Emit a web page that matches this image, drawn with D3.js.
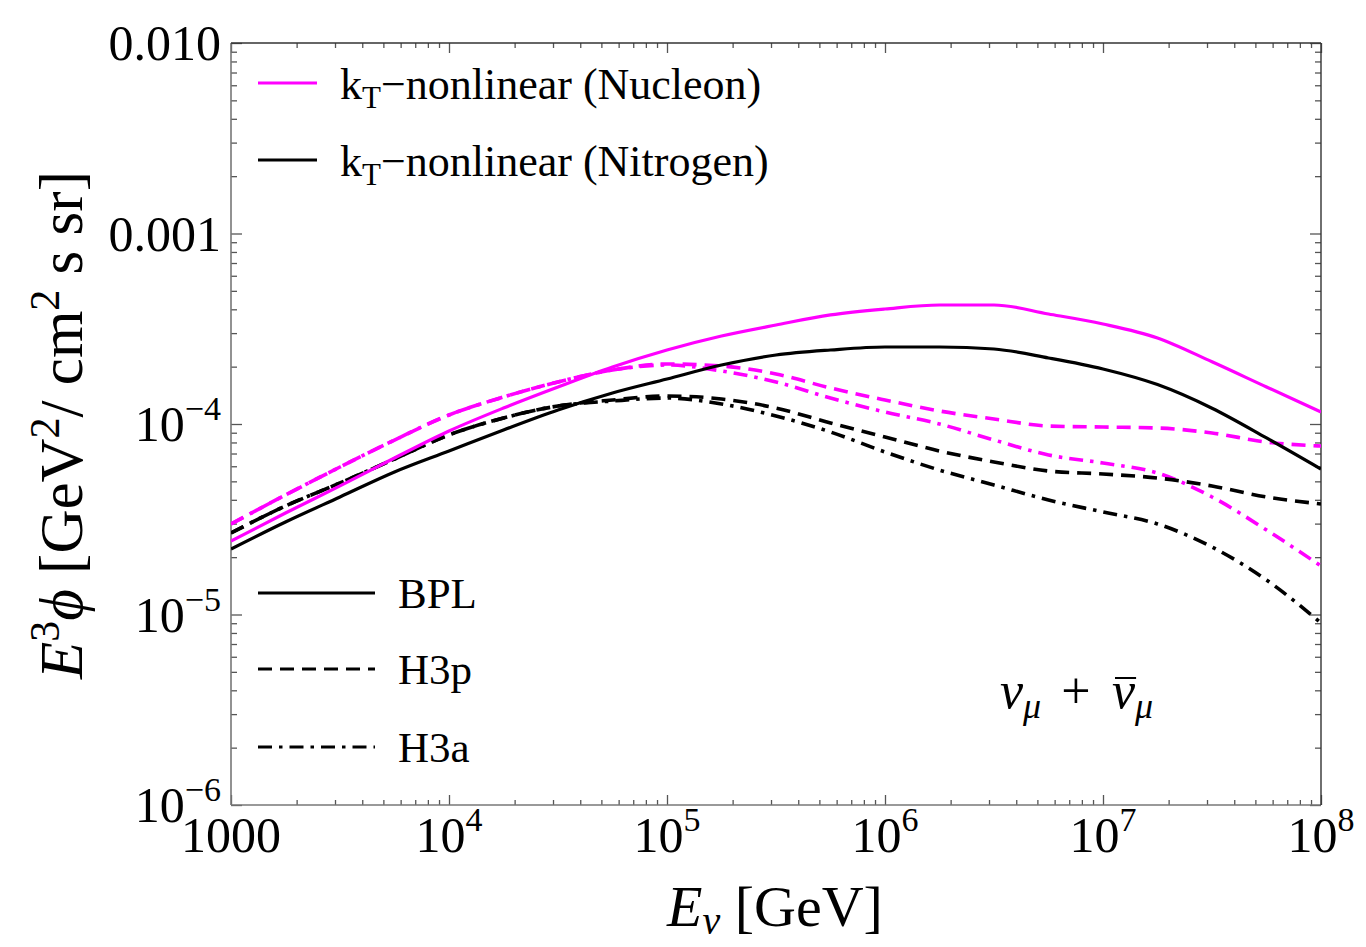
<!DOCTYPE html>
<html><head><meta charset="utf-8">
<script src="https://cdn.jsdelivr.net/npm/d3@7"></script>
<style>
body{margin:0;background:#fff;}
text{font-family:"Liberation Serif","Times New Roman",serif;fill:#000;}
</style>
</head><body><svg id="chart" width="1366" height="947"></svg>
<script>
// ---------------- data ----------------
const energies = [1000, 1778, 3162, 5623, 1e4, 17783, 31623, 56234, 1e5, 177828, 316228, 562341,
  1e6, 1778279, 3162278, 5623413, 1e7, 17782794, 31622777, 56234133, 1e8];

const nucleonBPL = [2.43e-5, 3.41e-5, 4.73e-5, 6.63e-5, 9.19e-5, 1.213e-4, 1.564e-4, 1.991e-4, 2.446e-4, 2.897e-4,
  3.309e-4, 3.736e-4, 4.016e-4, 4.215e-4, 4.215e-4, 3.781e-4, 3.35e-4, 2.83e-4, 2.12e-4, 1.564e-4, 1.156e-4];
const nitrogenBPL = [2.207e-5, 3.059e-5, 4.139e-5, 5.598e-5, 7.216e-5, 9.30e-5, 1.184e-4, 1.455e-4, 1.723e-4, 2.040e-4,
  2.302e-4, 2.446e-4, 2.537e-4, 2.537e-4, 2.476e-4, 2.221e-4, 1.944e-4, 1.61e-4, 1.21e-4, 8.45e-5, 5.80e-5];
const nucleonH3p = [2.987e-5, 4.240e-5, 5.947e-5, 8.24e-5, 1.115e-4, 1.386e-4, 1.662e-4, 1.921e-4, 2.065e-4, 2.016e-4,
  1.830e-4, 1.545e-4, 1.337e-4, 1.170e-4, 1.062e-4, 9.76e-5, 9.64e-5, 9.53e-5, 8.97e-5, 8.04e-5, 7.66e-5];
const nucleonH3a = [2.987e-5, 4.240e-5, 5.947e-5, 8.24e-5, 1.115e-4, 1.386e-4, 1.662e-4, 1.921e-4, 2.040e-4, 1.900e-4,
  1.662e-4, 1.369e-4, 1.156e-4, 1.0e-4, 8.24e-5, 6.88e-5, 6.24e-5, 5.53e-5, 4.139e-5, 2.777e-5, 1.797e-5];
const nitrogenH3p = [2.678e-5, 3.712e-5, 4.901e-5, 6.55e-5, 8.76e-5, 1.075e-4, 1.243e-4, 1.337e-4, 1.403e-4, 1.353e-4,
  1.213e-4, 1.012e-4, 8.55e-5, 7.216e-5, 6.32e-5, 5.665e-5, 5.465e-5, 5.206e-5, 4.726e-5, 4.139e-5, 3.802e-5];
const nitrogenH3a = [2.678e-5, 3.712e-5, 4.901e-5, 6.55e-5, 8.76e-5, 1.075e-4, 1.243e-4, 1.320e-4, 1.369e-4, 1.274e-4,
  1.102e-4, 9.08e-5, 7.13e-5, 5.73e-5, 4.785e-5, 3.990e-5, 3.452e-5, 2.987e-5, 2.261e-5, 1.517e-5, 9.03e-6];

const xTickValues = [1e3, 1e4, 1e5, 1e6, 1e7, 1e8];
const xTickBases = ["1000", "10", "10", "10", "10", "10"];
const xTickExps = ["", "4", "5", "6", "7", "8"];
const yTickValues = [1e-6, 1e-5, 1e-4, 1e-3, 1e-2];
const yTickBases = ["10", "10", "10", "0.001", "0.010"];
const yTickExps = ["\u22126", "\u22125", "\u22124", "", ""];

const targetLabels = ["(Nucleon)", "(Nitrogen)"];
const modelLabels = ["BPL", "H3p", "H3a"];

// ---------------- layout ----------------
const L = 231, R = 1321, T = 43, B = 805;
const MAGENTA = "#ff00ff";
const DASH = "14,8", DASHDOT = "14,7,3.5,7";

const svg = d3.select("#chart");
const x = d3.scaleLog().domain([1e3, 1e8]).range([L, R]);
const y = d3.scaleLog().domain([1e-6, 1e-2]).range([B, T]);

svg.append("defs").append("clipPath").attr("id", "clip")
  .append("rect").attr("x", L).attr("y", T).attr("width", R - L).attr("height", B - T);

// ---------------- ticks ----------------
const minorX = [], minorY = [];
for (let d = 3; d < 8; d++) for (let k = 2; k <= 9; k++) minorX.push(k * Math.pow(10, d));
for (let d = -6; d < -2; d++) for (let k = 2; k <= 9; k++) minorY.push(k * Math.pow(10, d));

const tickColor = "#555";
function styleAxis(g) {
  g.select(".domain").remove();
  g.selectAll(".tick line").attr("stroke", tickColor).attr("stroke-width", 1.3);
  g.selectAll(".tick text").remove();
}
svg.append("g").attr("transform", `translate(0,${B})`).call(d3.axisBottom(x).tickValues(xTickValues).tickSize(-10)).call(styleAxis);
svg.append("g").attr("transform", `translate(0,${B})`).call(d3.axisBottom(x).tickValues(minorX).tickSize(-5)).call(styleAxis);
svg.append("g").attr("transform", `translate(0,${T})`).call(d3.axisTop(x).tickValues(xTickValues).tickSize(-10)).call(styleAxis);
svg.append("g").attr("transform", `translate(0,${T})`).call(d3.axisTop(x).tickValues(minorX).tickSize(-5)).call(styleAxis);
svg.append("g").attr("transform", `translate(${L},0)`).call(d3.axisLeft(y).tickValues(yTickValues).tickSize(-11)).call(styleAxis);
svg.append("g").attr("transform", `translate(${L},0)`).call(d3.axisLeft(y).tickValues(minorY).tickSize(-6)).call(styleAxis);
svg.append("g").attr("transform", `translate(${R},0)`).call(d3.axisRight(y).tickValues(yTickValues).tickSize(-11)).call(styleAxis);
svg.append("g").attr("transform", `translate(${R},0)`).call(d3.axisRight(y).tickValues(minorY).tickSize(-6)).call(styleAxis);

// frame
svg.append("line").attr("x1", L).attr("x2", L).attr("y1", T).attr("y2", B).attr("stroke", "#777").attr("stroke-width", 1.6);
svg.append("line").attr("x1", L).attr("x2", R).attr("y1", B).attr("y2", B).attr("stroke", "#777").attr("stroke-width", 1.6);
svg.append("line").attr("x1", L).attr("x2", R).attr("y1", T).attr("y2", T).attr("stroke", "#333").attr("stroke-width", 1.4);
svg.append("line").attr("x1", R).attr("x2", R).attr("y1", T).attr("y2", B).attr("stroke", "#333").attr("stroke-width", 1.4);

// tick labels
const TL = 50, TS = 34;
xTickValues.forEach((v, i) => {
  const t = svg.append("text").attr("x", x(v)).attr("y", 852).attr("text-anchor", "middle").style("font-size", TL + "px");
  t.append("tspan").text(xTickBases[i]);
  if (xTickExps[i]) t.append("tspan").attr("dy", -21).style("font-size", TS + "px").text(xTickExps[i]);
});
yTickValues.forEach((v, i) => {
  const t = svg.append("text").attr("x", 221).attr("y", y(v) + 17).attr("text-anchor", "end").style("font-size", TL + "px");
  t.append("tspan").text(yTickBases[i]);
  if (yTickExps[i]) t.append("tspan").attr("dy", -21).style("font-size", TS + "px").text(yTickExps[i]);
});

// axis titles
const xt = svg.append("text").attr("x", 775).attr("y", 926).attr("text-anchor", "middle").style("font-size", "58px");
xt.append("tspan").style("font-style", "italic").text("E");
xt.append("tspan").attr("dy", 8).style("font-style", "italic").style("font-size", "40px").text("\u03bd");
xt.append("tspan").attr("dy", -8).text(" [GeV]");

const yt = svg.append("text").attr("transform", "translate(82,425) rotate(-90)").attr("text-anchor", "middle").style("font-size", "61px");
yt.append("tspan").style("font-style", "italic").text("E");
yt.append("tspan").attr("dy", -23).style("font-size", "42px").text("3");
yt.append("tspan").attr("dy", 23).style("font-style", "italic").text("\u03d5");
yt.append("tspan").text(" [GeV");
yt.append("tspan").attr("dy", -23).style("font-size", "42px").text("2");
yt.append("tspan").attr("dy", 23).text("/ cm");
yt.append("tspan").attr("dy", -23).style("font-size", "42px").text("2");
yt.append("tspan").attr("dy", 23).text(" s sr]");

// ---------------- curves ----------------
const series = [
  {values: nucleonH3a, color: MAGENTA, dash: DASHDOT},
  {values: nucleonH3p, color: MAGENTA, dash: DASH},
  {values: nitrogenH3a, color: "#000", dash: DASHDOT},
  {values: nitrogenH3p, color: "#000", dash: DASH},
  {values: nucleonBPL, color: MAGENTA, dash: null},
  {values: nitrogenBPL, color: "#000", dash: null}
];
const line = d3.line().x(d => x(d[0])).y(d => y(d[1])).curve(d3.curveMonotoneX);
const plot = svg.append("g").attr("clip-path", "url(#clip)");
series.forEach(s => {
  plot.append("path").datum(energies.map((e, i) => [e, s.values[i]]))
    .attr("d", line).attr("fill", "none").attr("stroke", s.color)
    .attr("stroke-width", s.dash ? 3.6 : 3.2)
    .attr("stroke-dasharray", s.dash);
});

// ---------------- legends ----------------
const LF = "44px";
[[MAGENTA, 83, 99, targetLabels[0]], ["#000", 160, 176, targetLabels[1]]].forEach(([c, ly, ty, lab]) => {
  svg.append("line").attr("x1", 258).attr("x2", 317).attr("y1", ly).attr("y2", ly).attr("stroke", c).attr("stroke-width", 3.2);
  const t = svg.append("text").attr("x", 340).attr("y", ty).style("font-size", LF);
  t.append("tspan").text("k");
  t.append("tspan").attr("dy", 9).style("font-size", "31px").text("T");
  t.append("tspan").attr("dy", -9).text("\u2212nonlinear " + lab);
});
[[null, 593], [DASH, 669], [DASHDOT, 747]].forEach(([d, ly], i) => {
  svg.append("line").attr("x1", 258).attr("x2", 375).attr("y1", ly).attr("y2", ly)
    .attr("stroke", "#000").attr("stroke-width", 3.2).attr("stroke-dasharray", d);
  svg.append("text").attr("x", 398).attr("y", ly + 15).style("font-size", "43px").text(modelLabels[i]);
});

// ---------------- annotation ----------------
const AF = 52;
const a1 = svg.append("text").attr("x", 1000).attr("y", 708).style("font-size", AF + "px");
a1.append("tspan").style("font-style", "italic").text("\u03bd");
a1.append("tspan").attr("dy", 10).style("font-style", "italic").style("font-size", "36px").text("\u03bc");
const w0 = a1.node().getComputedTextLength();
svg.append("text").attr("x", 1000 + w0 + 20).attr("y", 708).style("font-size", AF + "px").text("+");
const x2 = 1112;
const a2 = svg.append("text").attr("x", x2).attr("y", 708).style("font-size", AF + "px");
const nu = a2.append("tspan").style("font-style", "italic").text("\u03bd");
a2.append("tspan").attr("dy", 10).style("font-style", "italic").style("font-size", "36px").text("\u03bc");
const nuW = nu.node().getComputedTextLength();
svg.append("line").attr("x1", x2 + 3).attr("x2", x2 + nuW + 1)
  .attr("y1", 678).attr("y2", 678).attr("stroke", "#000").attr("stroke-width", 2);
</script>
</body></html>
